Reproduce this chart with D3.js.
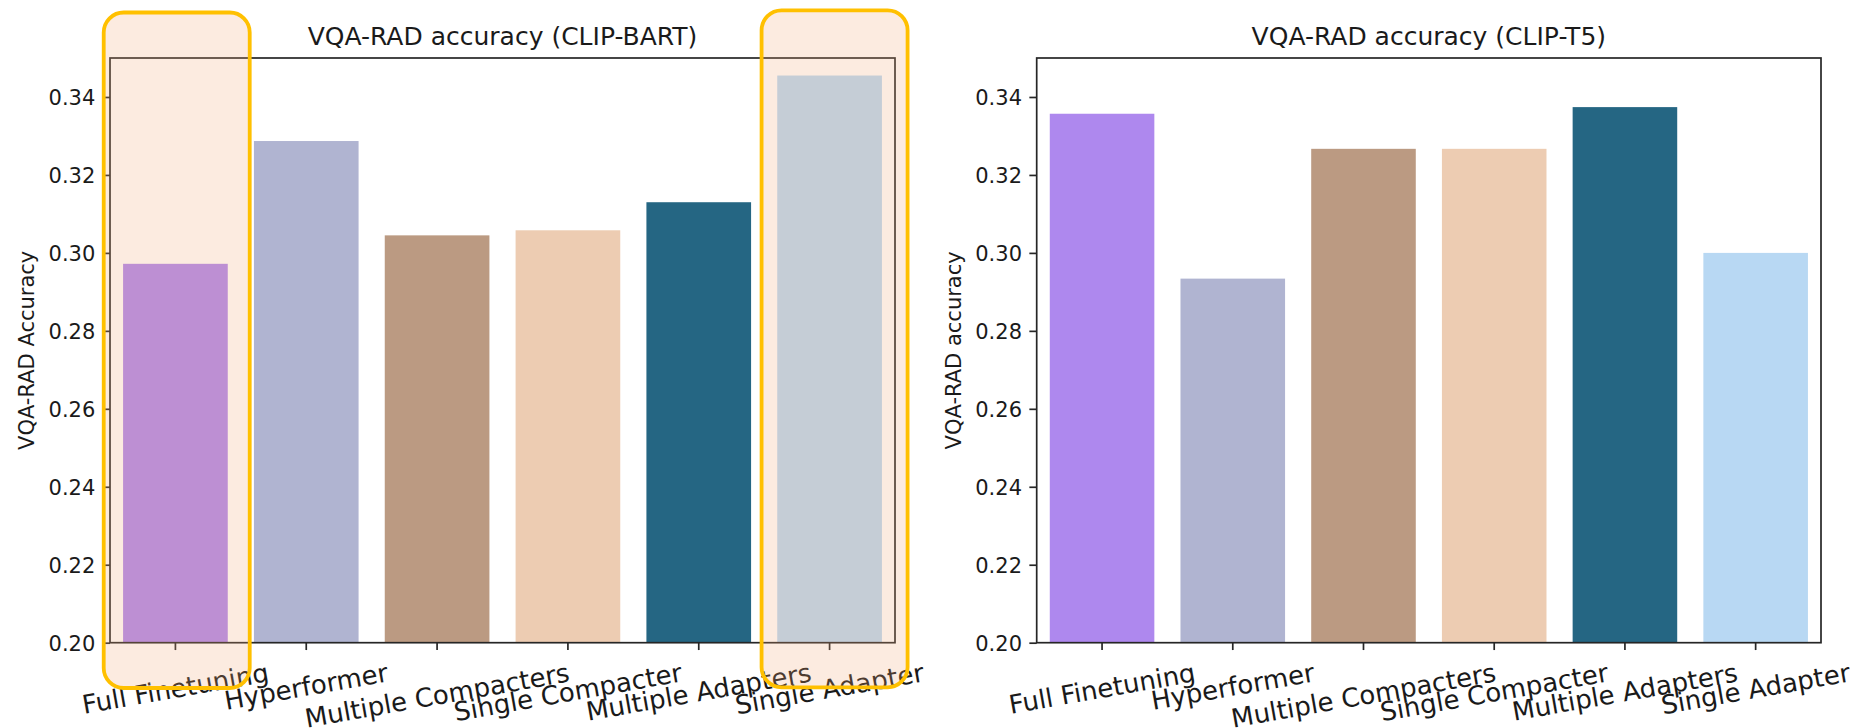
<!DOCTYPE html>
<html>
<head>
<meta charset="utf-8">
<script src="https://cdn.jsdelivr.net/npm/d3@7"></script>
<style>
  html, body { margin: 0; padding: 0; background: #fff; }
  svg { display: block; font-family: "DejaVu Sans", sans-serif; }
</style>
</head>
<body>
<svg id="chart" width="1854" height="728"></svg>
<script>
const categories = ["Full Finetuning", "Hyperformer", "Multiple Compacters", "Single Compacter", "Multiple Adapters", "Single Adapter"];
const barColors = ["#AE88EE", "#B0B4D1", "#BB9A82", "#EDCCB2", "#256683", "#B8D8F3"];
const bartValues = [0.2972, 0.3287, 0.3045, 0.3058, 0.3130, 0.3455];
const t5Values = [0.3357, 0.2934, 0.3267, 0.3267, 0.3374, 0.3000];
const yTicks = [0.20, 0.22, 0.24, 0.26, 0.28, 0.30, 0.32, 0.34];
const yDomain = [0.20, 0.35];
const panels = [
  { title: "VQA-RAD accuracy (CLIP-BART)", ylabel: "VQA-RAD Accuracy", values: bartValues, highlight: ["Full Finetuning", "Single Adapter"] },
  { title: "VQA-RAD accuracy (CLIP-T5)", ylabel: "VQA-RAD accuracy", values: t5Values, highlight: [] }
];

const svg = d3.select("#chart");
const frames = [
  { left: 110, right: 895, top: 58, bottom: 642.7, ylabelX: 26.5 },
  { left: 1036.7, right: 1821, top: 58, bottom: 642.7, ylabelX: 953 }
];
const axisColor = "#262626";
const tickFont = 21;
const xLabelFont = 26;

panels.forEach((p, pi) => {
  const f = frames[pi];
  const x = d3.scaleBand().domain(categories).range([f.left, f.right]).paddingInner(0.2).paddingOuter(0.1);
  const y = d3.scaleLinear().domain(yDomain).range([f.bottom, f.top]);
  const g = svg.append("g");

  // bars
  g.selectAll("rect.bar").data(categories).enter().append("rect")
    .attr("class", "bar")
    .attr("x", d => x(d))
    .attr("width", x.bandwidth())
    .attr("y", (d, i) => y(p.values[i]))
    .attr("height", (d, i) => y(yDomain[0]) - y(p.values[i]))
    .attr("fill", (d, i) => barColors[i]);

  // frame (spines)
  g.append("rect")
    .attr("x", f.left).attr("y", f.top)
    .attr("width", f.right - f.left).attr("height", f.bottom - f.top)
    .attr("fill", "none").attr("stroke", axisColor).attr("stroke-width", 1.7);

  // y axis
  const yAxis = d3.axisLeft(y).tickValues(yTicks).tickFormat(d3.format(".2f")).tickSize(7.35).tickPadding(7.35);
  const ya = g.append("g").attr("transform", `translate(${f.left},0)`).call(yAxis);
  ya.select(".domain").remove();
  ya.selectAll(".tick line").attr("stroke", axisColor).attr("stroke-width", 1.7);
  ya.selectAll(".tick text").attr("font-size", tickFont).attr("fill", "#1a1a1a")
    .attr("font-family", "DejaVu Sans").attr("dy", "0.36em");

  // x axis ticks
  const xAxis = d3.axisBottom(x).tickSize(7.35).tickFormat("");
  const xa = g.append("g").attr("transform", `translate(0,${f.bottom})`).call(xAxis);
  xa.select(".domain").remove();
  xa.selectAll(".tick line").attr("stroke", axisColor).attr("stroke-width", 1.7);

  // rotated x labels
  const labelTop = f.bottom + 7.35 + 7.35;
  categories.forEach(c => {
    const cx = x(c) + x.bandwidth() / 2;
    const t = g.append("text")
      .attr("font-size", xLabelFont).attr("fill", "#1a1a1a")
      .attr("text-anchor", "middle").text(c);
    const w = t.node().getComputedTextLength();
    const h = 1.164 * xLabelFont;
    const a = 10 * Math.PI / 180;
    const bh = w * Math.sin(a) + h * Math.cos(a);
    const cy = labelTop + bh / 2;
    t.attr("transform", `translate(${cx},${cy}) rotate(-10)`)
      .attr("y", 0.346 * xLabelFont);
  });

  // title
  g.append("text")
    .attr("x", (f.left + f.right) / 2).attr("y", 45)
    .attr("text-anchor", "middle").attr("font-size", 25).attr("fill", "#1a1a1a")
    .text(p.title);

  // y label
  g.append("text")
    .attr("transform", `translate(${f.ylabelX},${(f.top + f.bottom) / 2}) rotate(-90)`)
    .attr("text-anchor", "middle").attr("dy", "0.36em")
    .attr("font-size", 21).attr("fill", "#1a1a1a")
    .text(p.ylabel);

  // highlight boxes
  p.highlight.forEach(c => {
    const first = c === categories[0];
    const cx = x(c) + x.bandwidth() / 2 + (first ? 1.3 : 5);
    const half = 73;
    g.append("rect")
      .attr("x", cx - half).attr("width", half * 2)
      .attr("y", first ? 12.5 : 10.3)
      .attr("height", first ? 675.5 : 677)
      .attr("rx", 20).attr("ry", 20)
      .attr("fill", "rgba(242,168,120,0.23)")
      .attr("stroke", "#FFC000").attr("stroke-width", 3.8);
  });
});
</script>
</body>
</html>
